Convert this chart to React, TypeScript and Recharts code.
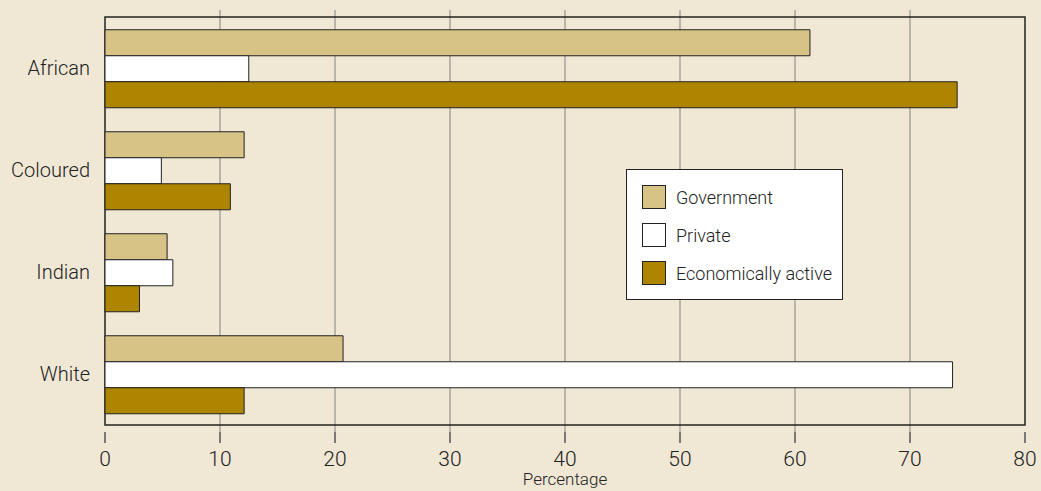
import {
  Bar,
  BarChart,
  CartesianGrid,
  ReferenceArea,
  XAxis,
  YAxis,
} from "recharts";

const groups = ["African", "Coloured", "Indian", "White"];
const government = [61.3, 12.1, 5.4, 20.7];
const privateSector = [12.5, 4.9, 5.9, 73.7];
const economicallyActive = [74.1, 10.9, 3.0, 12.1];
const xTicks = [0, 10, 20, 30, 40, 50, 60, 70, 80];

const series = [
  { key: "government", name: "Government", color: "#d7c386" },
  { key: "private", name: "Private", color: "#ffffff" },
  { key: "active", name: "Economically active", color: "#ad8500" },
];

const data = groups.map((group, i) => ({
  group,
  government: government[i],
  private: privateSector[i],
  active: economicallyActive[i],
}));

const FONT = "Roboto, 'Liberation Sans', sans-serif";

// legend sits inside the plot, so it's an overlay rather than a Recharts Legend
function LegendBox() {
  return (
    <div
      style={{
        position: "absolute",
        left: 626,
        top: 169,
        width: 217,
        height: 131,
        background: "#fff",
        border: "1px solid #222",
        boxSizing: "border-box",
        padding: "8px 0 0 15px",
        fontFamily: FONT,
        fontWeight: 300,
        fontSize: 18,
        color: "#222",
      }}
    >
      {series.map((s) => (
        <div
          key={s.key}
          style={{ display: "flex", alignItems: "center", height: 38 }}
        >
          <span
            style={{
              display: "inline-block",
              width: 22,
              height: 22,
              background: s.color,
              border: "1px solid #222",
              marginRight: 10,
            }}
          />
          {s.name}
        </div>
      ))}
    </div>
  );
}

export default function App() {
  return (
    <div
      style={{
        position: "relative",
        width: 1041,
        height: 491,
        background: "#f0e8d5",
      }}
    >
      <style>{`body{margin:0}`}</style>
      <BarChart
        width={1041}
        height={491}
        data={data}
        layout="vertical"
        margin={{ top: 10, right: 16, bottom: 0, left: 0 }}
        barCategoryGap="12.5%"
        barGap={0}
      >
        <CartesianGrid
          horizontal={false}
          stroke="#a9a59c"
          strokeWidth={1.5}
          verticalValues={[10, 20, 30, 40, 50, 60, 70]}
        />
        <XAxis
          type="number"
          domain={[0, 80]}
          ticks={xTicks}
          interval={0}
          height={59}
          tickSize={11}
          tickMargin={8}
          axisLine={false}
          tickLine={{ stroke: "#555", strokeWidth: 1.5 }}
          tick={{ fill: "#222", fontSize: 21, fontFamily: FONT, fontWeight: 300 }}
          label={{
            value: "Percentage",
            position: "insideBottom",
            offset: 6,
            fill: "#222",
            fontSize: 17,
            fontFamily: FONT,
            fontWeight: 300,
          }}
        />
        <YAxis
          type="category"
          dataKey="group"
          width={105}
          axisLine={false}
          tickLine={false}
          tickSize={0}
          tickMargin={15}
          padding={{ top: 7, bottom: 7 }}
          tick={{ fill: "#222", fontSize: 20, fontFamily: FONT, fontWeight: 300 }}
        />
        <ReferenceArea
          x1={0}
          x2={80}
          fill="none"
          stroke="#222"
          strokeWidth={1.5}
          fillOpacity={0}
        />
        {series.map((s) => (
          <Bar
            key={s.key}
            dataKey={s.key}
            name={s.name}
            fill={s.color}
            stroke="#222"
            strokeWidth={1}
            isAnimationActive={false}
          />
        ))}
      </BarChart>
      <LegendBox />
    </div>
  );
}
